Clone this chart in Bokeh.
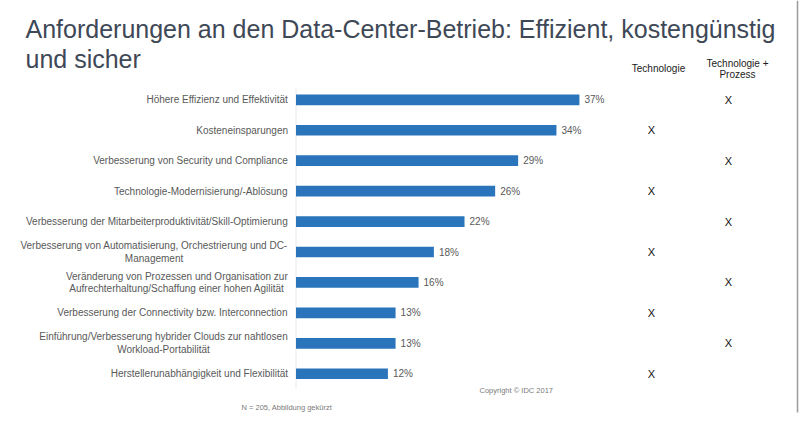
from bokeh.plotting import figure
from bokeh.models import ColumnDataSource, Range1d, Label
from bokeh.embed import file_html
from bokeh.resources import INLINE
from bokeh.core.properties import value

# ---- data -------------------------------------------------------------
categories = [
    "Höhere Effizienz und Effektivität",
    "Kosteneinsparungen",
    "Verbesserung von Security und Compliance",
    "Technologie-Modernisierung/-Ablösung",
    "Verbesserung der Mitarbeiterproduktivität/Skill-Optimierung",
    "Verbesserung von Automatisierung, Orchestrierung und DC-\nManagement",
    "Veränderung von Prozessen und Organisation zur\nAufrechterhaltung/Schaffung einer hohen Agilität",
    "Verbesserung der Connectivity bzw. Interconnection",
    "Einführung/Verbesserung hybrider Clouds zur nahtlosen\nWorkload-Portabilität",
    "Herstellerunabhängigkeit und Flexibilität",
]
shares = [37, 34, 29, 26, 22, 18, 16, 13, 13, 12]
columns = ["Technologie", "Technologie +\nProzess"]
# which column carries the "X" for each row (0 = Technologie, 1 = Technologie + Prozess)
marked_column = [1, 0, 1, 0, 1, 0, 1, 0, 1, 0]

# ---- layout constants ---------------------------------------------------
W, H = 800, 425
PX_PER_PCT = 7.66          # horizontal scale of the bars
BAR_X0 = 295.5             # pixel where 0 % sits
ROW0_Y = 99.3              # pixel centre of the first row
ROW_STEP = 30.44           # pixel distance between rows
COL_X = [651, 728]         # pixel centres of the "X" columns
LABEL_GAP = 8              # space between label block and bars
LABEL_SIZE = 10            # px

def fx(px):
    return (px - BAR_X0) / PX_PER_PCT

def fy(py):
    return (py - ROW0_Y) / ROW_STEP

# Advance widths (1/1000 em) of Liberation Sans, used to centre the lines of
# wrapped category labels while keeping the whole block right-aligned.
_W = {" ": 278, ",": 278, "-": 333, ".": 278, "/": 278,
      "a": 556, "b": 556, "c": 500, "d": 556, "e": 556, "f": 278, "g": 556,
      "h": 556, "i": 222, "j": 222, "k": 500, "l": 222, "m": 833, "n": 556,
      "o": 556, "p": 556, "q": 556, "r": 333, "s": 500, "t": 278, "u": 556,
      "v": 500, "w": 722, "x": 500, "y": 500, "z": 500,
      "ä": 556, "ö": 556, "ü": 556,
      "A": 667, "B": 667, "C": 722, "D": 722, "E": 667, "F": 611, "G": 778,
      "H": 722, "I": 278, "J": 500, "K": 667, "L": 556, "M": 833, "N": 722,
      "O": 778, "P": 667, "Q": 778, "R": 722, "S": 667, "T": 611, "U": 722,
      "V": 667, "W": 944, "X": 667, "Y": 667, "Z": 611}

def block_width(text, size):
    return max(sum(_W.get(ch, 556) for ch in line) for line in text.split("\n")) * size / 1000

BLUE = "#2a74bb"
GREY = "#595959"
FONT = value("Liberation Sans")

rows = list(range(len(categories)))
src = ColumnDataSource(dict(
    y=rows,
    cat=categories,
    cat_off=[-LABEL_GAP - block_width(c, LABEL_SIZE) / 2 for c in categories],
    share=shares,
    share_txt=[f"{v}%" for v in shares],
    mark_x=[fx(COL_X[c]) for c in marked_column],
    mark=["X"] * len(rows),
))

p = figure(width=W, height=H, output_backend="svg", toolbar_location=None,
           x_range=Range1d(fx(0), fx(W)), y_range=Range1d(fy(H), fy(0)),
           min_border=0, outline_line_color=None, background_fill_color="white",
           border_fill_color="white")
p.axis.visible = False
p.grid.visible = False

# faint baseline at 0 %
p.segment(x0=0, y0=fy(88), x1=0, y1=fy(388), line_color="#e4e8ee", line_width=1)
# thin frame line at the right edge
p.segment(x0=fx(797), y0=fy(0), x1=fx(797), y1=fy(412), line_color="#9a9a9a", line_width=1.5)

# bars
p.hbar(y="y", left=0, right="share", height=0.35, source=src,
       fill_color=BLUE, line_color=None)

# category labels (lines centred within a right-aligned block)
p.text(x=0, y="y", text="cat", source=src, x_offset="cat_off",
       text_align="center", text_baseline="middle", text_font=FONT,
       text_font_size=f"{LABEL_SIZE}px", text_color=GREY, text_line_height=1.15)

# value labels
p.text(x="share", y="y", text="share_txt", source=src, x_offset=5,
       text_align="left", text_baseline="middle", text_font=FONT,
       text_font_size="10px", text_color=GREY)

# X marks
p.text(x="mark_x", y="y", text="mark", source=src,
       text_align="center", text_baseline="middle", text_font=FONT,
       text_font_size="11px", text_color="#111111")

# title
TITLE_C = "#3e4856"
for line, base in [("Anforderungen an den Data-Center-Betrieb: Effizient, kostengünstig", 28),
                   ("und sicher", 58)]:
    p.add_layout(Label(x=25, y=H - base, x_units="screen", y_units="screen", text=line,
                       text_font="Liberation Sans", text_font_size="25px",
                       text_color=TITLE_C, text_baseline="alphabetic"))

# column headers
hdr = dict(x_units="screen", y_units="screen", text_font="Liberation Sans",
           text_font_size="10px", text_color="#1a1a1a", text_align="center",
           text_baseline="alphabetic")
p.add_layout(Label(x=658, y=H - 67.5, text=columns[0], **hdr))
first, second = columns[1].split("\n")
p.add_layout(Label(x=737, y=H - 62.5, text=first, **hdr))
p.add_layout(Label(x=737, y=H - 74, text=second, **hdr))

# footnotes
note = dict(x_units="screen", y_units="screen", text_font="Liberation Sans",
            text_font_size="7.5px", text_color="#7a7a7a", text_baseline="alphabetic")
p.add_layout(Label(x=479, y=H - 390, text="Copyright © IDC 2017", **note))
p.add_layout(Label(x=241, y=H - 407, text="N = 205, Abbildung gekürzt", **note))

open("out.html", "w").write(file_html(p, INLINE))
